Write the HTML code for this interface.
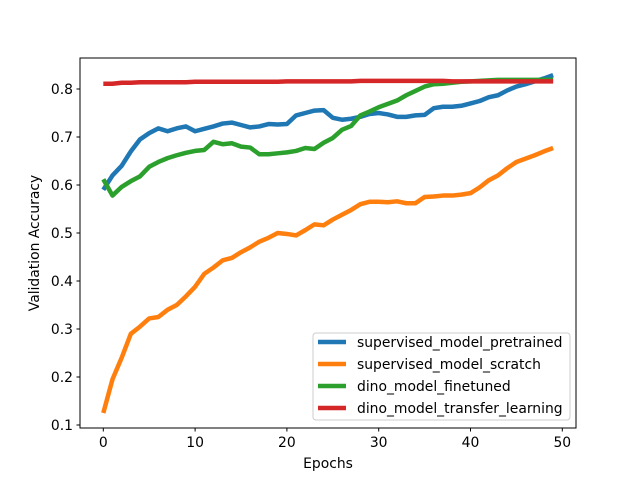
<!DOCTYPE html>
<html><head><meta charset="utf-8"><style>
body{margin:0;background:#fff}
svg text{font-family:"DejaVu Sans","Liberation Sans",sans-serif;font-size:13.9px;fill:#000}
</style></head><body>
<svg id="chart" width="640" height="480" xmlns="http://www.w3.org/2000/svg">
<rect width="640" height="480" fill="#fff"/>
<g id="lines"></g>
<rect x="80" y="58" width="496" height="370" fill="none" stroke="#000" stroke-width="1"/>
<g id="ticks"></g>
<text x="328" y="468" text-anchor="middle">Epochs</text>
<text transform="translate(39,243) rotate(-90)" text-anchor="middle">Validation Accuracy</text>
<g id="legend"></g>
</svg>
<script>
const xTicks=[0,10,20,30,40,50];
const yTicks=[0.1,0.2,0.3,0.4,0.5,0.6,0.7,0.8];
const seriesNames=["supervised_model_pretrained","supervised_model_scratch","dino_model_finetuned","dino_model_transfer_learning"];
const colors=["#1f77b4","#ff7f0e","#2ca02c","#d62728"];
const pretrained=[0.59,0.62,0.64,0.67,0.695,0.708,0.718,0.712,0.718,0.722,0.712,0.717,0.722,0.728,0.73,0.725,0.72,0.722,0.727,0.726,0.727,0.745,0.75,0.755,0.756,0.74,0.736,0.738,0.742,0.748,0.75,0.747,0.742,0.742,0.745,0.746,0.76,0.763,0.763,0.765,0.77,0.775,0.783,0.787,0.797,0.805,0.81,0.816,0.822,0.829];
const scratch=[0.125,0.195,0.24,0.29,0.305,0.322,0.325,0.34,0.35,0.368,0.388,0.415,0.428,0.443,0.448,0.46,0.47,0.482,0.49,0.5,0.498,0.495,0.506,0.518,0.516,0.528,0.538,0.548,0.56,0.565,0.565,0.564,0.566,0.562,0.562,0.575,0.576,0.578,0.578,0.58,0.583,0.595,0.61,0.62,0.635,0.648,0.655,0.662,0.67,0.677];
const finetuned=[0.612,0.578,0.596,0.608,0.618,0.638,0.648,0.656,0.662,0.667,0.671,0.673,0.69,0.685,0.687,0.68,0.678,0.664,0.664,0.666,0.668,0.671,0.677,0.675,0.688,0.698,0.715,0.723,0.745,0.753,0.762,0.769,0.776,0.787,0.796,0.805,0.81,0.811,0.813,0.815,0.816,0.817,0.818,0.819,0.819,0.819,0.819,0.819,0.819,0.819];
const transfer=[0.811,0.811,0.813,0.813,0.814,0.814,0.814,0.814,0.814,0.814,0.815,0.815,0.815,0.815,0.815,0.815,0.815,0.815,0.815,0.815,0.816,0.816,0.816,0.816,0.816,0.816,0.816,0.816,0.817,0.817,0.817,0.817,0.817,0.817,0.817,0.817,0.817,0.817,0.816,0.816,0.816,0.816,0.816,0.816,0.816,0.816,0.816,0.816,0.816,0.816];
const allSeries=[pretrained,scratch,finetuned,transfer];
const NS="http://www.w3.org/2000/svg";
function xs(v){return 103.3+v*9.18;}
function ys(v){return 425-(v-0.1)*480;}
function mk(tag,attrs,parent){const e=document.createElementNS(NS,tag);for(const k in attrs)e.setAttribute(k,attrs[k]);parent.appendChild(e);return e;}
const lines=document.getElementById('lines');
allSeries.forEach((s,i)=>{
  const p=mk('polyline',{points:s.map((v,j)=>xs(j)+','+ys(v)).join(' '),fill:'none',stroke:colors[i],'stroke-width':4.5,'stroke-linejoin':'round'},lines);
  
  
});
const ticks=document.getElementById('ticks');
xTicks.forEach(t=>{
  const l=mk('line',{x1:xs(t),x2:xs(t),y1:428,y2:431.5,stroke:'#000'},ticks);
  
  
  const tx=mk('text',{x:xs(t),y:447,'text-anchor':'middle'},ticks);tx.textContent=t;
  
  
});
yTicks.forEach(t=>{
  const l=mk('line',{x1:76.5,x2:80,y1:ys(t),y2:ys(t),stroke:'#000'},ticks);
  
  
  const tx=mk('text',{x:73,y:ys(t)+5,'text-anchor':'end'},ticks);tx.textContent=t.toFixed(1);
  
  
});
const lg=document.getElementById('legend');
mk('rect',{x:313,y:333,width:257,height:87,rx:3,fill:'#fff','fill-opacity':0.8,stroke:'#ccc'},lg);
seriesNames.forEach((n,i)=>{
  const y=342+i*22;
  const l=mk('line',{x1:318,x2:346,y1:y,y2:y,stroke:colors[i],'stroke-width':4.5},lg);
  
  
  const t=mk('text',{x:357,y:y+5},lg);t.textContent=n;
  
  
});
</script>
</body></html>
